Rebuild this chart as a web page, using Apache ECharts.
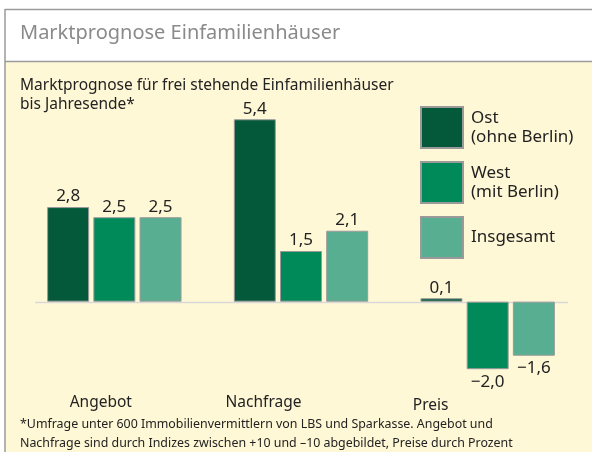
<!DOCTYPE html>
<html>
<head>
<meta charset="utf-8">
<script src="https://cdn.jsdelivr.net/npm/echarts@6/dist/echarts.min.js"></script>
<style>
  html, body { margin: 0; padding: 0; background: #fff; }
  #graph { width: 592px; height: 452px; }
</style>
</head>
<body>
<div id="graph"></div>
<script>
var categories = ['Angebot', 'Nachfrage', 'Preis'];
var seriesNames = ['Ost\n(ohne Berlin)', 'West\n(mit Berlin)', 'Insgesamt'];
var ost = [2.8, 5.4, 0.1];
var west = [2.5, 1.5, -2.0];
var insgesamt = [2.5, 2.1, -1.6];
var colors = ['#03593a', '#008a5a', '#58ae90'];

var fontFam = '"Noto Sans", sans-serif';

function fmt(v) {
    var s = Math.abs(v).toFixed(1).replace('.', ',');
    return v < 0 ? '\u2212' + s : s;
}

function makeSeries(name, data, color) {
    return {
        name: name,
        type: 'bar',
        barWidth: 42,
        barGap: '10%',
        data: data.map(function (v) {
            return {
                value: v,
                label: { position: v < 0 ? 'bottom' : 'top', distance: v < 0 ? 4 : 2 }
            };
        }),
        itemStyle: { color: color, borderColor: '#9a9a9a', borderWidth: 1 },
        label: {
            show: true,
            fontFamily: fontFam,
            fontSize: 17,
            color: '#222',
            formatter: function (p) { return fmt(p.value); }
        }
    };
}

var dom = document.getElementById("graph");
var myChart = echarts.init(dom);
var option = {
    animation: false,
    textStyle: { fontFamily: fontFam },
    graphic: [
        { type: 'rect', shape: { x: 5, y: 10, width: 600, height: 52 }, style: { fill: '#fff' }, z: -10 },
        { type: 'rect', shape: { x: 5, y: 62, width: 600, height: 400 }, style: { fill: '#fff8d6' }, z: -10 },
        { type: 'line', shape: { x1: 5, y1: 9.5, x2: 592, y2: 9.5 }, style: { stroke: '#9a9a9a', lineWidth: 1.5 }, z: -5 },
        { type: 'line', shape: { x1: 5, y1: 61.5, x2: 592, y2: 61.5 }, style: { stroke: '#9a9a9a', lineWidth: 1.5 }, z: -5 },
        { type: 'line', shape: { x1: 5, y1: 9, x2: 5, y2: 452 }, style: { stroke: '#9a9a9a', lineWidth: 1.5 }, z: -5 }
    ],
    title: [
        {
            text: 'Marktprognose Einfamilienhäuser',
            left: 20, top: 23, padding: 0,
            textStyle: { fontFamily: fontFam, fontSize: 20, fontWeight: 'normal', color: '#8a8a8a' }
        },
        {
            text: 'Marktprognose für frei stehende Einfamilienhäuser\nbis Jahresende*',
            left: 20, top: 76, padding: 0,
            textStyle: { fontFamily: fontFam, fontSize: 15.5, fontWeight: 'normal', color: '#222', lineHeight: 19 }
        },
        {
            text: '*Umfrage unter 600 Immobilienvermittlern von LBS und Sparkasse. Angebot und\nNachfrage sind durch Indizes zwischen +10 und \u201310 abgebildet, Preise durch Prozent',
            left: 20, top: 415, padding: 0,
            textStyle: { fontFamily: fontFam, fontSize: 12.4, fontWeight: 'normal', color: '#222', lineHeight: 19 }
        }
    ],
    legend: {
        orient: 'vertical',
        left: 420, top: 106, padding: 0,
        itemWidth: 42, itemHeight: 41, itemGap: 12,
        icon: 'rect',
        selectedMode: false,
        textStyle: { fontFamily: fontFam, fontSize: 17, color: '#222', lineHeight: 18.5, padding: [0, 0, 0, 3] },
        data: seriesNames
    },
    grid: { left: 21, right: 11, top: 99, height: 304 },
    xAxis: {
        type: 'category',
        data: categories,
        axisLine: { show: false, onZero: false },
        axisTick: { show: false },
        axisLabel: {
            margin: 0,
            verticalAlign: 'middle',
            fontFamily: fontFam,
            fontSize: 15.5,
            color: '#222',
            formatter: function (v, i) { return '{c' + i + '|' + v + '}'; },
            rich: {
                c0: { fontSize: 15.5, padding: [0, 27, 0, 0] },
                c1: { fontSize: 15.5, padding: [0, 75, 0, 0] },
                c2: { fontSize: 15.5, padding: [6, 114, 0, 0] }
            }
        }
    },
    yAxis: {
        type: 'value',
        min: -3, max: 6,
        show: false
    },
    series: [
        makeSeries(seriesNames[0], ost, colors[0]),
        makeSeries(seriesNames[1], west, colors[1]),
        makeSeries(seriesNames[2], insgesamt, colors[2])
    ]
};
myChart.setOption(option, true);

// baseline at value 0
var y0 = Math.round(myChart.convertToPixel({ yAxisIndex: 0 }, 0)) + 0.5;
myChart.setOption({
    graphic: option.graphic.concat([
        { type: 'line', shape: { x1: 35, y1: y0, x2: 568, y2: y0 }, style: { stroke: '#d8d8d8', lineWidth: 1.5 }, z: 1 }
    ])
});
</script>
</body>
</html>
